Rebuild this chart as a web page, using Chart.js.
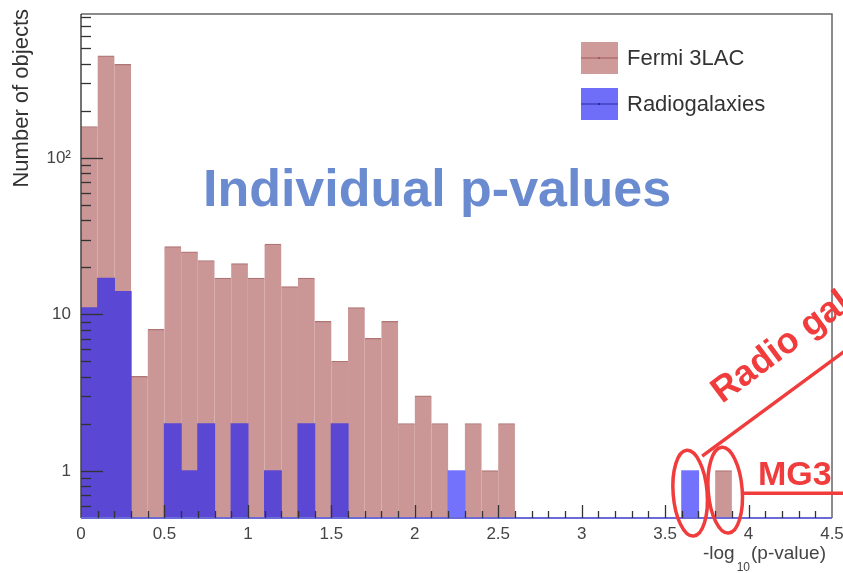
<!DOCTYPE html>
<html>
<head>
<meta charset="utf-8">
<script src="https://cdn.jsdelivr.net/npm/chart.js@4"></script>
<style>
  html, body { margin: 0; padding: 0; background: #fff; }
  #wrap { width: 843px; height: 573px; position: relative; }
</style>
</head>
<body>
<div id="wrap"><canvas id="histChart" width="843" height="573"></canvas></div>
<script>
// bins of -log10(p-value), width 0.1 (lower edges)
const binLabels = ['0.0','0.1','0.2','0.3','0.4','0.5','0.6','0.7','0.8','0.9',
                   '1.0','1.1','1.2','1.3','1.4','1.5','1.6','1.7','1.8','1.9',
                   '2.0','2.1','2.2','2.3','2.4','2.5','2.6','2.7','2.8','2.9',
                   '3.0','3.1','3.2','3.3','3.4','3.5','3.6','3.7','3.8','3.9',
                   '4.0','4.1','4.2','4.3','4.4'];
const fermiCounts = [158, 446, 394, 4, 8, 27, 25, 22, 17, 21,
                     17, 28, 15, 17, 9, 5, 11, 7, 9, 2,
                     3, 2, 0, 2, 1, 2, 0, 0, 0, 0,
                     0, 0, 0, 0, 0, 0, 0, 0, 1, 0,
                     0, 0, 0, 0, 0];
const radioCounts = [11, 17, 14, 0, 0, 2, 1, 2, 0, 2,
                     0, 1, 0, 2, 0, 2, 0, 0, 0, 0,
                     0, 0, 1, 0, 0, 0, 0, 0, 0, 0,
                     0, 0, 0, 0, 0, 0, 1, 0, 0, 0,
                     0, 0, 0, 0, 0];
const seriesNames = ['Fermi 3LAC', 'Radiogalaxies'];
const xTicks = [0, 0.5, 1, 1.5, 2, 2.5, 3, 3.5, 4, 4.5];
const yLabels = { 1: '1', 10: '10', 100: '10\u00b2' };

const FONT = '"Liberation Sans", Arial, Helvetica, sans-serif';

// ROOT style frame, inward ticks, legend and the red annotations
const rootStyle = {
    id: 'rootStyle',
    afterDatasetsDraw(chart) {
        const { ctx, chartArea: a, scales } = chart;
        const y = scales.y, x2 = scales.x2;
        ctx.save();
        // frame
        ctx.strokeStyle = '#666';
        ctx.lineWidth = 1.5;
        ctx.beginPath();
        ctx.moveTo(a.left, a.top); ctx.lineTo(a.right, a.top); ctx.lineTo(a.right, a.bottom);
        ctx.stroke();
        ctx.strokeStyle = '#444';
        ctx.beginPath();
        ctx.moveTo(a.left, a.top); ctx.lineTo(a.left, a.bottom);
        ctx.stroke();
        ctx.strokeStyle = '#6a6ad8';
        ctx.lineWidth = 2;
        ctx.beginPath();
        ctx.moveTo(a.left, a.bottom); ctx.lineTo(a.right, a.bottom);
        ctx.stroke();

        // y ticks (log, inward)
        ctx.strokeStyle = '#333';
        ctx.lineWidth = 1.3;
        for (let d = -1; d <= 2; d++) {
            for (let m = 1; m <= 9; m++) {
                const v = m * Math.pow(10, d);
                if (v <= y.min || v >= y.max) continue;
                const py = Math.round(y.getPixelForValue(v)) + 0.5;
                const len = m === 1 ? 22 : 10;
                ctx.beginPath();
                ctx.moveTo(a.left, py); ctx.lineTo(a.left + len, py);
                ctx.stroke();
            }
        }
        // x ticks (inward)
        for (let i = 1; i < 45; i++) {
            const px = Math.round(x2.getPixelForValue(i / 10)) + 0.5;
            const len = i % 5 === 0 ? 13 : 7;
            ctx.beginPath();
            ctx.moveTo(px, a.bottom); ctx.lineTo(px, a.bottom - len);
            ctx.stroke();
        }
        ctx.restore();
    },
    afterDraw(chart) {
        const { ctx, chartArea: a, scales } = chart;
        const x2 = scales.x2, y = scales.y;
        ctx.save();

        // legend
        const ds = chart.data.datasets;
        ds.forEach((d, i) => {
            const top = 42 + i * 46;
            ctx.fillStyle = d.legendColor;
            ctx.fillRect(581, top, 37, 32);
            ctx.strokeStyle = d.legendLine;
            ctx.lineWidth = 1;
            ctx.beginPath();
            ctx.moveTo(581, top + 16); ctx.lineTo(618, top + 16);
            ctx.stroke();
            ctx.fillStyle = d.legendLine;
            ctx.fillRect(598, top + 15, 2, 2);
            ctx.fillStyle = '#333';
            ctx.font = '22px ' + FONT;
            ctx.textBaseline = 'middle';
            ctx.textAlign = 'left';
            ctx.fillText(d.label, 627, top + 17);
        });

        // y axis title
        ctx.save();
        ctx.translate(33, 9);
        ctx.rotate(-Math.PI / 2);
        ctx.font = '22px ' + FONT;
        ctx.fillStyle = '#333';
        ctx.textAlign = 'right';
        ctx.textBaseline = 'bottom';
        ctx.fillText('Number of objects', 0, 0);
        ctx.restore();

        // x axis title with subscript
        ctx.fillStyle = '#444';
        ctx.textBaseline = 'alphabetic';
        ctx.textAlign = 'left';
        ctx.font = '19px ' + FONT;
        let tx = 703;
        ctx.fillText('-log', tx, 559);
        tx += ctx.measureText('-log').width + 2;
        ctx.font = '12px ' + FONT;
        ctx.fillText('10', tx, 571);
        tx += ctx.measureText('10').width + 1;
        ctx.font = '19px ' + FONT;
        ctx.fillText('(p-value)', tx, 559);

        // overlay title
        ctx.fillStyle = '#6a8bd0';
        ctx.font = 'bold 52px ' + FONT;
        ctx.textAlign = 'center';
        ctx.fillText('Individual p-values', 437, 206);

        // red annotations
        const red = '#f03c3c';
        ctx.strokeStyle = red;
        ctx.fillStyle = red;
        ctx.lineWidth = 3.5;
        const e1x = x2.getPixelForValue(3.65), e2x = x2.getPixelForValue(3.86);
        const ey = y.getPixelForValue(0.72);
        ctx.beginPath();
        ctx.ellipse(e1x, ey, 17, 43, -0.08, 0, Math.PI * 2);
        ctx.stroke();
        ctx.beginPath();
        ctx.ellipse(e2x, ey - 3, 17, 43, -0.08, 0, Math.PI * 2);
        ctx.stroke();
        // line to "Radio ga..."
        ctx.beginPath();
        ctx.moveTo(e1x + 12, ey - 37);
        ctx.lineTo(e1x + 12 + 160, ey - 37 - 118);
        ctx.stroke();
        // line to "MG3"
        ctx.beginPath();
        ctx.moveTo(e2x + 17, ey);
        ctx.lineTo(843, ey);
        ctx.stroke();
        ctx.font = 'bold 34px ' + FONT;
        ctx.textAlign = 'left';
        ctx.fillText('MG3', 758, ey - 8);
        ctx.save();
        ctx.translate(722, 404);
        ctx.rotate(-0.64);
        ctx.font = 'bold 36px ' + FONT;
        ctx.fillText('Radio galaxies', 0, 0);
        ctx.restore();

        ctx.restore();
    }
};

const ctx = document.getElementById('histChart').getContext('2d');
const histChart = new Chart(ctx, {
    type: 'bar',
    data: {
        labels: binLabels,
        datasets: [{
            label: seriesNames[0],
            data: fermiCounts,
            backgroundColor: '#cb9696',
            borderColor: '#b07474',
            borderWidth: { top: 1.2, left: 0, right: 0, bottom: 0 },
            legendColor: '#cf9a9a',
            legendLine: '#a05a5a',
            order: 1
        }, {
            label: seriesNames[1],
            data: radioCounts,
            // translucent blue: darker where it sits over the pink histogram
            backgroundColor: c => fermiCounts[c.dataIndex] > 0 ? '#5a47d4' : '#7272fc',
            borderWidth: 0,
            legendColor: '#6e6ef8',
            legendLine: '#2a2aa0',
            order: 0
        }]
    },
    options: {
        responsive: false,
        animation: false,
        layout: { padding: { top: 14, right: 11, left: 0, bottom: 0 } },
        datasets: {
            bar: { grouped: false, barPercentage: 1, categoryPercentage: 1, borderSkipped: false, inflateAmount: 0.6 }
        },
        plugins: {
            legend: { display: false },
            tooltip: { enabled: false }
        },
        scales: {
            x: {
                type: 'category',
                display: false,
                offset: true
            },
            x2: {
                type: 'linear',
                position: 'bottom',
                min: 0,
                max: 4.5,
                offset: false,
                afterFit: s => { s.height = 55; s.paddingLeft = 0; s.paddingRight = 0; },
                afterBuildTicks: s => { s.ticks = xTicks.map(v => ({ value: v })); },
                grid: { display: false, drawTicks: false, offset: false },
                border: { display: false },
                ticks: {
                    padding: 6,
                    color: '#444',
                    maxRotation: 0,
                    autoSkip: false,
                    font: { family: FONT, size: 17 },
                    callback: v => String(v)
                }
            },
            y: {
                type: 'logarithmic',
                min: 0.5,
                max: 830,
                afterFit: s => { s.width = 81; s.paddingTop = 0; s.paddingBottom = 0; },
                grid: { display: false, drawTicks: false },
                border: { display: false },
                ticks: {
                    padding: 10,
                    color: '#444',
                    autoSkip: false,
                    font: { family: FONT, size: 17 },
                    callback: v => yLabels[v] || ''
                }
            }
        }
    },
    plugins: [rootStyle]
});
</script>
</body>
</html>
